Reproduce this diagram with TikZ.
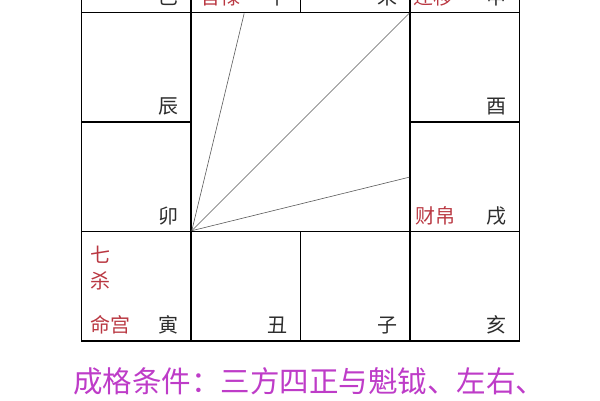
\documentclass[tikz,border=0pt]{standalone}
\usepackage{fontspec}
\setmainfont{Noto Sans CJK SC}
\definecolor{gongred}{RGB}{185,55,65}
\definecolor{zhigray}{RGB}{45,45,45}
\definecolor{tjmagenta}{RGB}{190,60,200}
\begin{document}
\begin{tikzpicture}[x=1pt,y=-1pt,
		cell/.style={draw,line width=1.6pt,minimum size=109.5pt,inner sep=0pt},
		diag/.style={line width=0.6pt,draw=black!65},
		zhi/.style={text=zhigray,font=\fontsize{20}{20}\selectfont,inner sep=0pt,anchor=base east},
		gong/.style={text=gongred,font=\fontsize{20}{20}\selectfont,inner sep=0pt,anchor=base west}]
			\useasboundingbox (0,0) rectangle (600,400);
			\clip (0,0) rectangle (600,400);
			% twelve palaces
			\node[cell] (si) at (136.25,-42.25) {};
			\node[cell] (wu) at (245.75,-42.25) {};
			\node[cell] (wei) at (355.25,-42.25) {};
			\node[cell] (shen) at (464.75,-42.25) {};
			\node[cell] (chen) at (136.25,67.25) {};
			\node[cell] (you) at (464.75,67.25) {};
			\node[cell] (mao) at (136.25,176.75) {};
			\node[cell] (xu) at (464.75,176.75) {};
			\node[cell] (yin) at (136.25,286.25) {};
			\node[cell] (chou) at (245.75,286.25) {};
			\node[cell] (zi) at (355.25,286.25) {};
			\node[cell] (hai) at (464.75,286.25) {};
			% sanfang sizheng
			\draw[diag] (yin.north east) -- ([xshift=54pt]wu.south west);
			\draw[diag] (yin.north east) -- (shen.south west);
			\draw[diag] (yin.north east) -- ([yshift=-56pt]xu.north west);
			% branches
			\node[zhi] (lsi) at ([shift={(-13.5pt,9pt)}]si.south east) {巳};
			\node[zhi] (lwu) at ([shift={(-13.5pt,9pt)}]wu.south east) {午};
			\node[zhi] (lwei) at ([shift={(-13.5pt,9pt)}]wei.south east) {未};
			\node[zhi] (lshen) at ([shift={(-13.5pt,9pt)}]shen.south east) {申};
			\node[zhi] (lchen) at ([shift={(-13.5pt,9pt)}]chen.south east) {辰};
			\node[zhi] (lyou) at ([shift={(-13.5pt,9pt)}]you.south east) {酉};
			\node[zhi] (lmao) at ([shift={(-13.5pt,9pt)}]mao.south east) {卯};
			\node[zhi] (lxu) at ([shift={(-13.5pt,9pt)}]xu.south east) {戌};
			\node[zhi] (lyin) at ([shift={(-13.5pt,9pt)}]yin.south east) {寅};
			\node[zhi] (lchou) at ([shift={(-13.5pt,9pt)}]chou.south east) {丑};
			\node[zhi] (lzi) at ([shift={(-13.5pt,9pt)}]zi.south east) {子};
			\node[zhi] (lhai) at ([shift={(-13.5pt,9pt)}]hai.south east) {亥};
			% palaces and star
			\node[gong] (guanlu) at ([shift={(10pt,9pt)}]wu.south west) {官禄};
			\node[gong] (qianyi) at ([shift={(4pt,9pt)}]shen.south west) {迁移};
			\node[gong] (caibo) at ([shift={(6pt,9pt)}]xu.south west) {财帛};
			\node[gong] (minggong) at ([shift={(10pt,9pt)}]yin.south west) {命宫};
			\node[gong] (qi) at ([shift={(10pt,-31.5pt)}]yin.north west) {七};
			\node[gong] (sha) at ([shift={(10pt,-58pt)}]yin.north west) {杀};
			\node[text=tjmagenta,font=\fontsize{29.5}{30}\selectfont,inner sep=0pt,anchor=base west] (tiaojian) at (73,392.5) {成格条件：三方四正与魁钺、左右、};
		\end{tikzpicture}
\end{document}
